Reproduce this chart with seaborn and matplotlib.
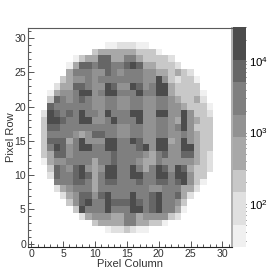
import numpy as np
import seaborn as sns
import matplotlib.pyplot as plt
from matplotlib.colors import ListedColormap, LogNorm
from matplotlib.ticker import NullFormatter, FixedLocator

sns.set_style("white")
plt.rcParams['font.family'] = ['Liberation Sans', 'DejaVu Sans']
plt.rcParams['mathtext.fontset'] = 'custom'
plt.rcParams['mathtext.rm'] = 'Liberation Sans'
plt.rcParams['mathtext.default'] = 'regular'

# occupancy per pixel, grey level 1 (few hits) .. 8 (most hits), rows listed from 29 down to 2
row_numbers = list(range(29, 1, -1))
first_col = [12, 10, 7, 6, 6, 5, 4, 3, 3, 3, 2, 2, 2, 2,
             2, 2, 2, 2, 3, 3, 4, 4, 5, 6, 7, 8, 10, 12]
row_levels = [
    "1122211",
    "34444443331",
    "1344774466433332",
    "147767766787443332",
    "46665576566655443432",
    "3455656666666558532331",
    "24477655875587568843333",
    "1455688568866686688433331",
    "3765676556655665566543342",
    "76666665566556655665543331",
    "287676866586668855885585332",
    "388766885568666855665485433",
    "377666666666556655665685333",
    "366665457766556655665565433",
    "377746855588668755884585433",
    "368756886688666785885588433",
    "347756666667666654675577432",
    "145566664667666544655555432",
    "37657854588668646875874332",
    "2766787468866886688688533",
    "666776467766676677678531",
    "24566646666666655666442",
    "245775786668667866742",
    "3578668777876786653",
    "386668666886786641",
    "2455544664555532",
    "344446644331",
    "1223211",
]
level_counts = [36, 87, 210, 510, 1230, 3000, 7200, 17800]
grey_levels = ['#f0f0f0', '#e0e0e0', '#c8c8c8', '#a8a8a8', '#929292', '#7f7f7f', '#666666', '#4c4c4c']
level_slots = [2, 3, 2, 3, 2, 3, 2, 3]

counts = np.full((32, 32), np.nan)
for r, c0, levels in zip(row_numbers, first_col, row_levels):
    for i, ch in enumerate(levels):
        counts[r, c0 + i] = level_counts[int(ch) - 1]

cmap = ListedColormap([g for g, n in zip(grey_levels, level_slots) for _ in range(n)])

fig = plt.figure(figsize=(2.76, 2.75), dpi=100)
ax = fig.add_axes([28 / 276, 28 / 275, 204 / 276, 219 / 275])
cax = fig.add_axes([233 / 276, 28 / 275, 13 / 276, 220 / 275])

sns.heatmap(counts, ax=ax, cbar_ax=cax, cmap=cmap, norm=LogNorm(vmin=25, vmax=30000),
            square=False, xticklabels=False, yticklabels=False, linewidths=0)
ax.invert_yaxis()
ax.set_xlim(0, 32)
ax.set_ylim(0, 32)

ax.xaxis.set_major_locator(FixedLocator(np.arange(0, 31, 5) + 0.5))
ax.yaxis.set_major_locator(FixedLocator(np.arange(0, 31, 5) + 0.5))
ax.xaxis.set_minor_locator(FixedLocator(np.arange(0, 32) + 0.5))
ax.yaxis.set_minor_locator(FixedLocator(np.arange(0, 32) + 0.5))
ax.set_xticklabels(range(0, 31, 5))
ax.set_yticklabels(range(0, 31, 5), rotation=0)
ax.tick_params(axis='both', which='major', direction='in', length=4.3, width=0.7,
               color='#555555', labelcolor='#333333', labelsize=7.6, pad=1.5,
               bottom=True, left=True)
ax.tick_params(axis='both', which='minor', direction='in', length=2.1, width=0.7,
               color='#555555', bottom=True, left=True)
ax.set_xlabel('Pixel Column', fontsize=8, color='#333333', labelpad=0)
ax.set_ylabel('Pixel Row', fontsize=8, color='#333333', labelpad=-1)

for side in ax.spines:
    ax.spines[side].set_visible(True)
    ax.spines[side].set_linewidth(0.8)
ax.spines['top'].set_color('#5a5a5a')
ax.spines['left'].set_color('#5a5a5a')
ax.spines['bottom'].set_color('#222222')
ax.spines['right'].set_color('#a8a8a8')
ax.spines['right'].set_linewidth(1.3)

cbar = ax.collections[0].colorbar
cbar.outline.set_visible(False)
cax.yaxis.set_minor_formatter(NullFormatter())
cax.tick_params(which='major', direction='in', length=4.2, width=0.7, color='#333333',
                labelsize=8.2, labelcolor='black', pad=2, right=True)
cax.tick_params(which='minor', direction='in', length=2.1, width=0.7, color='#555555', right=True)

fig.savefig('out.png', dpi=100)
